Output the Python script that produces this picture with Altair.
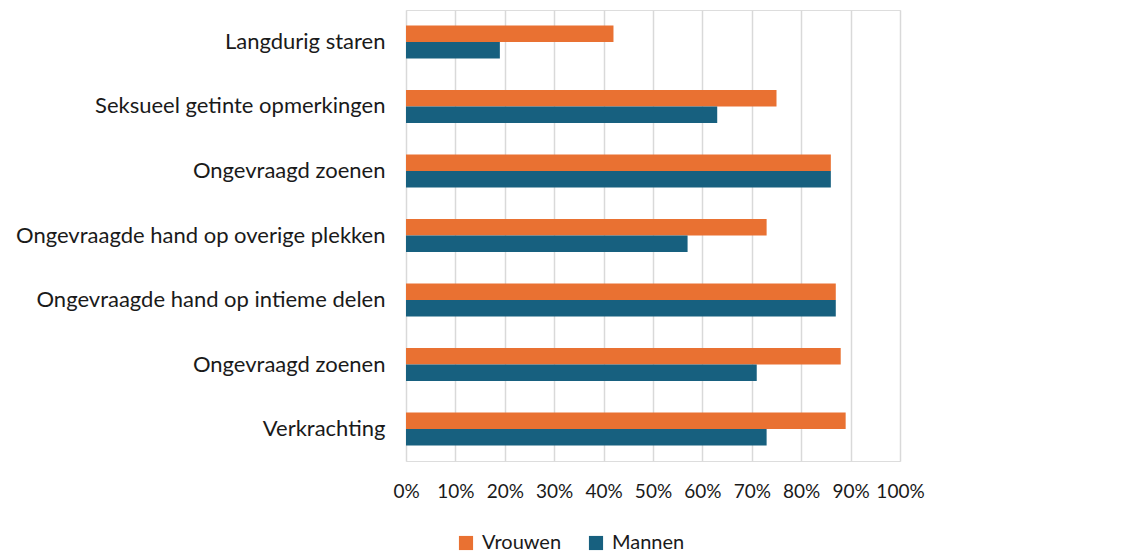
import json
import altair as alt
import pandas as pd

categories = [
    "Langdurig staren",
    "Seksueel getinte opmerkingen",
    "Ongevraagd zoenen",
    "Ongevraagde hand op overige plekken",
    "Ongevraagde hand op intieme delen",
    "Ongevraagd zoenen",
    "Verkrachting",
]
vrouwen = [42, 75, 86, 73, 87, 88, 89]
mannen = [19, 63, 86, 57, 87, 71, 73]
series = ["Vrouwen", "Mannen"]
colors = ["#E97132", "#17607F"]
x_ticks = [0, 0.1, 0.2, 0.3, 0.4, 0.5, 0.6, 0.7, 0.8, 0.9, 1.0]

rows = []
for i, c in enumerate(categories):
    rows.append({"idx": i, "cat": c, "serie": "Vrouwen", "value": vrouwen[i] / 100})
    rows.append({"idx": i, "cat": c, "serie": "Mannen", "value": mannen[i] / 100})
df = pd.DataFrame(rows)

font = "Lato"
label_expr = json.dumps(categories) + "[datum.value]"

chart = (
    alt.Chart(df)
    .mark_bar()
    .encode(
        x=alt.X(
            "value:Q",
            scale=alt.Scale(domain=[0, 1], nice=False),
            axis=alt.Axis(
                values=x_ticks,
                format=".0%",
                title=None,
                grid=True,
                gridColor="#D9D9D9",
                gridWidth=1.5,
                domain=False,
                ticks=False,
                labelFontSize=19,
                labelFont=font,
                labelColor="#1a1a1a",
                labelPadding=21,
                labelOverlap=False,
                labelFlush=False,
            ),
        ),
        y=alt.Y(
            "idx:O",
            scale=alt.Scale(paddingInner=0.488, paddingOuter=0.24),
            axis=alt.Axis(
                title=None,
                labelExpr=label_expr,
                domain=False,
                ticks=False,
                grid=False,
                labelFontSize=22,
                labelFont=font,
                labelColor="#1a1a1a",
                labelPadding=21,
                labelLimit=500,
            ),
        ),
        yOffset=alt.YOffset("serie:N", sort=series, scale=alt.Scale(domain=series, paddingInner=0, paddingOuter=0)),
        color=alt.Color(
            "serie:N",
            scale=alt.Scale(domain=series, range=colors),
            legend=alt.Legend(
                title=None,
                orient="none",
                legendX=50,
                legendY=523,
                direction="horizontal",
                symbolType="square",
                symbolSize=200,
                symbolStrokeWidth=0,
                labelFontSize=20,
                labelFont=font,
                labelColor="#1a1a1a",
                columnPadding=24,
                symbolOffset=0,
                labelOffset=6,
            ),
        ),
    )
    .properties(
        width=494,
        height=451,
        autosize=alt.AutoSizeParams(type="none"),
        padding={"left": 398, "top": 2, "right": 100, "bottom": 92},
    )
    .configure_view(stroke=None)
    .configure(background="white")
)

chart.save("out.html", embed_options={"renderer": "svg", "actions": False})
